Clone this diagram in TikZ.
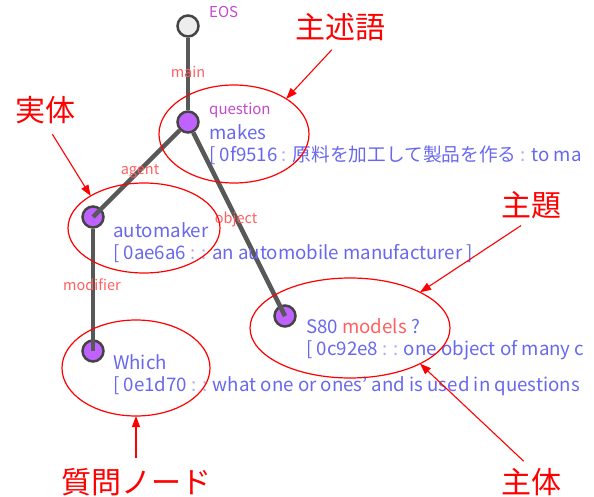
\documentclass[tikz,border=0pt]{standalone}
\usepackage{fontspec}
\setmainfont{Noto Sans CJK JP}
\usepackage{tikz}
\usetikzlibrary{arrows.meta,%
                shapes,positioning}
\definecolor{wordblue}{RGB}{104,104,238}
\definecolor{tagpink}{RGB}{196,72,204}
\definecolor{relred}{RGB}{255,96,96}
\definecolor{faint}{RGB}{176,176,240}
\definecolor{vfill}{RGB}{192,98,255}
\definecolor{vline}{RGB}{68,68,68}
\definecolor{elink}{RGB}{88,88,88}

\begin{document}
\begin{tikzpicture}[x=1pt,y=-1pt,
  vert/.style={circle, fill=vfill, draw=vline, line width=2.5pt, minimum size=21pt, inner sep=0},
  link/.style={elink, line width=4.5pt},
  word/.style={text=wordblue, font=\fontsize{18.7}{22}\selectfont, anchor=base west, inner sep=0},
  tag/.style={text=tagpink, font=\fontsize{15}{18}\selectfont, anchor=base west, inner sep=0},
  rel/.style={text=relred, font=\fontsize{14.5}{17}\selectfont, anchor=base, inner sep=0},
  ring/.style={ellipse, draw=red, line width=1.2pt, inner sep=0, outer sep=0},
  note/.style={text=red, font=\fontsize{30}{32}\selectfont, inner sep=0},
  pointer/.style={red, line width=1.1pt, -{Triangle[length=11pt,width=8pt]}}]
\useasboundingbox (0,0) rectangle (594,497);
\clip (0,0) rectangle (594,497);
\newcommand{\cl}{\textcolor{faint}{:}}
\node[vert, fill=black!7] (eos) at (188,26) {};
\node[vert] (makes) at (188,122) {};
\node[vert] (automaker) at (93,217) {};
\node[vert] (sbo) at (285,316) {};
\node[vert] (which) at (93,351) {};
\draw[link] (eos) -- (makes);
\draw[link] (makes) -- (automaker.center);
\draw[link] (makes) -- (sbo.center);
\draw[link] (automaker) -- (which.center);
\node[rel] (lmain) at (188,78) {main};
\node[rel] (lagent) at (140,175) {agent};
\node[rel] (lobject) at (236,223) {object};
\node[rel] (lmodifier) at (92,290) {modifier};
\node[tag] (teos) at (209,18) {EOS};
\node[tag] (tquestion) at (209,115) {question};
\node[word] (wmakes) at (209,140) {makes};
\node[word] (gmakes) at (209,162) {[ 0f9516 \cl{} 原料を加工して製品を作る \cl{} to ma};
\node[word] (wautomaker) at (113,237) {automaker};
\node[word] (gautomaker) at (113,259) {[ 0ae6a6 \cl{} \cl{} an automobile manufacturer ]};
\node[word] (wsbo) at (306,333) {S80 \textcolor{relred}{models} ?};
\node[word] (gsbo) at (306,355) {[ 0c92e8 \cl{} \cl{} one object of many c};
\node[word] (wwhich) at (113,369) {Which};
\node[word] (gwhich) at (113,391) {[ 0e1d70 \cl{} \cl{} what one or ones' and is used in questions};
\node[ring, minimum width=150pt, minimum height=98pt] (rpred) at (234,134) {};
\node[ring, minimum width=152pt, minimum height=90pt] (rent) at (144,228) {};
\node[ring, minimum width=200pt, minimum height=100pt] (rtopic) at (350,328) {};
\node[ring, minimum width=148pt, minimum height=96pt] (rquest) at (136,368) {};
\node[note] (npred) at (340,27) {主述語};
\node[note] (nent) at (46,110) {実体};
\node[note] (ntopic) at (531,205) {主題};
\node[note] (nsubj) at (531,482) {主体};
\node[note] (nquest) at (136,482) {質問ノード};
\draw[pointer, shorten <=12pt] (npred.south) -- (rpred.34);
\draw[pointer, shorten <=12pt] (nent.south) -- (rent.149);
\draw[pointer, shorten <=12pt] (ntopic.south) -- (rtopic.27);
\draw[pointer, shorten <=10pt] (nsubj.north) -- (rtopic.333);
\draw[pointer, shorten <=10pt] (nquest.north) -- (rquest.south);
\end{tikzpicture}
\end{document}
